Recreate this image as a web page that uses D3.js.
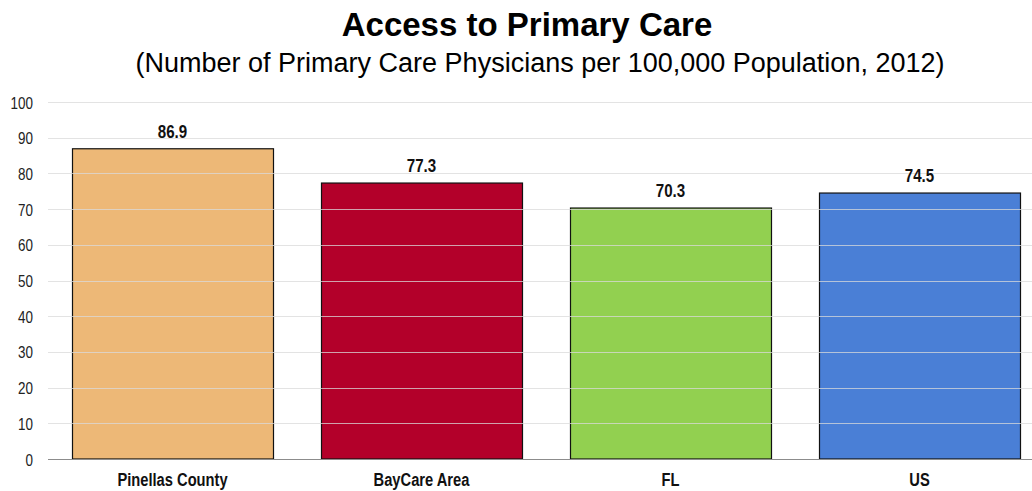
<!DOCTYPE html>
<html><head><meta charset="utf-8">
<script src="https://cdn.jsdelivr.net/npm/d3@7"></script>
<style>
html,body{margin:0;padding:0;background:#fff;}
svg{display:block;}
</style></head>
<body>
<svg id="chart" width="1032" height="491"></svg>
<script>
const categories = ["Pinellas County", "BayCare Area", "FL", "US"];
const values = [86.9, 77.3, 70.3, 74.5];
const colors = ["#EDB877", "#B3002A", "#92D050", "#4A7FD6"];
const yTicks = [0, 10, 20, 30, 40, 50, 60, 70, 80, 90, 100];
const title = "Access to Primary Care";
const subtitle = "(Number of Primary Care Physicians per 100,000 Population, 2012)";

const font = "'Liberation Sans', Arial, sans-serif";
const narrowScale = 0.84;

const svg = d3.select("#chart");
const x = d3.scaleBand().domain(categories).range([48, 1044]).paddingInner(48/249).paddingOuter(24/249);
const y = d3.scaleLinear().domain([0, 100]).range([459, 102]);

svg.append("text").attr("x", 527).attr("y", 36).attr("text-anchor", "middle")
  .style("font-family", font).style("font-weight", "bold").style("font-size", "33px").text(title);
svg.append("text").attr("x", 540).attr("y", 72).attr("text-anchor", "middle")
  .style("font-family", font).style("font-size", "27px").text(subtitle);

// bars
svg.append("g").selectAll("rect").data(values).join("rect")
  .attr("x", (d, i) => x(categories[i]) + 0.5)
  .attr("y", d => y(d))
  .attr("width", x.bandwidth())
  .attr("height", d => y(0) - y(d))
  .attr("fill", (d, i) => colors[i])
  .attr("stroke", "#111").attr("stroke-width", 1.2);

// gridlines (drawn over bars, faint)
svg.append("g").selectAll("line").data(yTicks.filter(t => t > 0)).join("line")
  .attr("x1", 48).attr("x2", 1032)
  .attr("y1", d => Math.round(y(d)) + 0.5).attr("y2", d => Math.round(y(d)) + 0.5)
  .attr("stroke", "#d9d9d9").attr("stroke-opacity", 0.75).attr("stroke-width", 1);

// baseline
svg.append("line").attr("x1", 48).attr("x2", 1032)
  .attr("y1", y(0) + 0.5).attr("y2", y(0) + 0.5)
  .attr("stroke", "#8c8c8c").attr("stroke-width", 1.2);

// y axis (condensed labels)
const yAxis = d3.axisLeft(y).tickValues(yTicks).tickSize(0).tickPadding(0);
const ya = svg.append("g").attr("transform", "translate(33,0)").call(yAxis);
ya.select(".domain").remove();
ya.selectAll(".tick text")
  .attr("x", 0).attr("dy", null).attr("y", 6)
  .attr("transform", `scale(${narrowScale},1)`)
  .style("font-family", font).style("font-size", "16px").attr("fill", "#222");

// x axis (condensed bold labels)
const xAxis = d3.axisBottom(x).tickSize(0).tickPadding(0);
const xa = svg.append("g").attr("transform", "translate(0,486)").call(xAxis);
xa.select(".domain").remove();
xa.selectAll(".tick text")
  .attr("y", 0).attr("dy", null)
  .attr("transform", `scale(${narrowScale},1)`)
  .style("font-family", font).style("font-weight", "bold").style("font-size", "17.5px").attr("fill", "#111");

// value labels
svg.append("g").selectAll("g").data(values).join("g")
  .attr("transform", (d, i) => `translate(${x(categories[i]) + x.bandwidth() / 2},${y(d) - 11}) scale(${narrowScale},1)`)
  .append("text")
  .attr("text-anchor", "middle")
  .style("font-family", font).style("font-weight", "bold").style("font-size", "18px").attr("fill", "#111")
  .text(d => d.toFixed(1));
</script>
</body></html>
